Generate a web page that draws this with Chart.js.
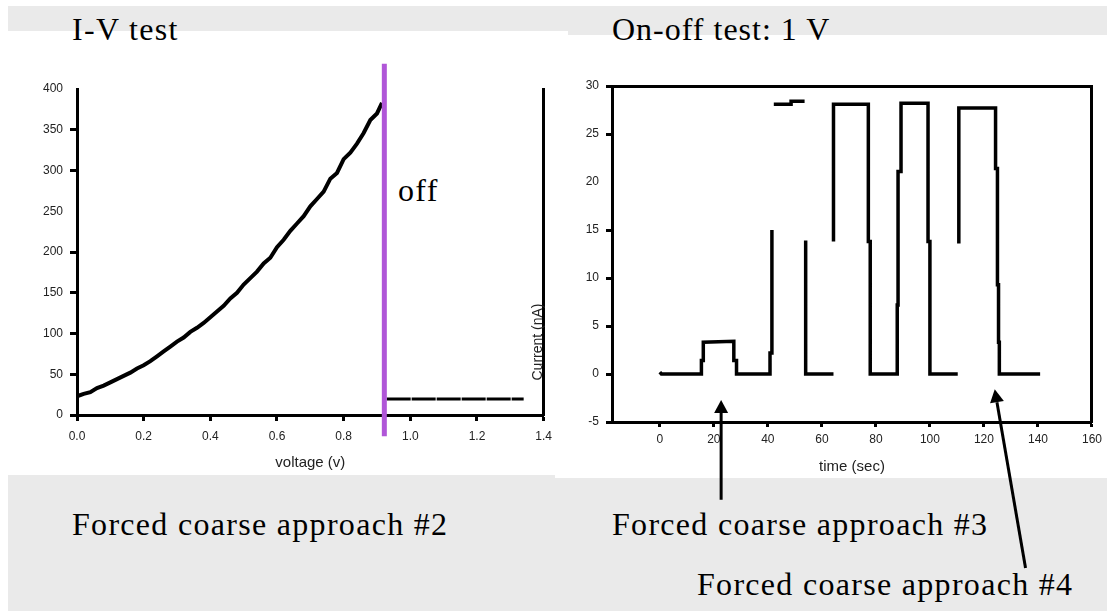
<!DOCTYPE html>
<html>
<head>
<meta charset="utf-8">
<script src="https://cdn.jsdelivr.net/npm/chart.js"></script>
<style>
  body { margin: 0; background: #fff; }
  #page { position: relative; width: 1107px; height: 611px; overflow: hidden; background: #fff; }
  .band { position: absolute; background: #eaeaea; }
  .note { position: absolute; font-family: "Liberation Serif", serif; font-size: 32px; line-height: 32px;
          letter-spacing: 1.3px; color: #000; white-space: nowrap; }
  canvas { position: absolute; top: 0; }
</style>
</head>
<body>
<div id="page">
  <div class="band" style="left:8px;top:6px;width:560px;height:25px"></div>
  <div class="band" style="left:568px;top:6px;width:539px;height:29px"></div>
  <div class="band" style="left:8px;top:475px;width:547px;height:136px"></div>
  <div class="band" style="left:555px;top:478px;width:552px;height:133px"></div>

  <div class="note" style="left:72px;top:13px">I-V test</div>
  <div class="note" style="left:612px;top:13px;letter-spacing:1px">On-off test: 1 V</div>
  <div class="note" style="left:398px;top:174px">off</div>
  <div class="note" style="left:72px;top:508px">Forced coarse approach #2</div>
  <div class="note" style="left:612px;top:508px">Forced coarse approach #3</div>
  <div class="note" style="left:697px;top:568px">Forced coarse approach #4</div>

  <canvas id="ivChart" width="560" height="611" style="left:0"></canvas>
  <canvas id="onoffChart" width="547" height="611" style="left:560px"></canvas>
</div>

<script>
'use strict';

// I-V test (left panel)
const ivVoltage = [0.00, 0.02, 0.04, 0.06, 0.08, 0.10, 0.12, 0.14, 0.16, 0.18,
                   0.20, 0.22, 0.24, 0.26, 0.28, 0.30, 0.32, 0.34, 0.36, 0.38,
                   0.40, 0.42, 0.44, 0.46, 0.48, 0.50, 0.52, 0.54, 0.56, 0.58,
                   0.60, 0.62, 0.64, 0.66, 0.68, 0.70, 0.72, 0.74, 0.76, 0.78,
                   0.80, 0.82, 0.84, 0.86, 0.88, 0.90, 0.915];
const ivCurrent = [23, 26, 28, 33, 36, 40, 44, 48, 52, 57,
                   61, 66, 72, 78, 84, 90, 95, 102, 107, 113,
                   120, 127, 134, 143, 150, 160, 168, 176, 186, 193,
                   206, 215, 226, 235, 244, 256, 265, 274, 290, 297,
                   314, 322, 333, 346, 362, 370, 383];
const offVoltage = [0.929, 1.34];
const offCurrent = [19.6, 19.6];
const cutoffVoltage = [0.922, 0.922];
const cutoffCurrent = [431, -26];

const ivXTicks = [0, 0.2, 0.4, 0.6, 0.8, 1.0, 1.2, 1.4];
const ivYTicks = [0, 50, 100, 150, 200, 250, 300, 350, 400];
const ivYNoMark = [250, 400];

// On-off test (right panel), null = break in the trace
const onoffTime = [0, 0.6, 15.4, 15.4, 16.1, 16.1, 27.4, 27.4, 28.4, 28.4, 40.8, 40.8, 41.5, 41.5, 41.9,
                   42.2, 48.6, 48.6, 53.6, 53.8,
                   54.0, 54.0, 64.3, 64.3,
                   64.3, 64.3, 77.2, 77.2, 77.9, 77.9, 87.9, 87.9, 88.2, 88.2, 89.3, 89.3,
                   99.3, 99.3, 100.0, 100.0, 110.3, 110.5,
                   110.7, 110.7, 124.3, 124.3, 125.0, 125.0, 125.4, 125.4, 125.7, 125.7, 140.8];
const onoffCurrent = [0.2, 0, 0, 1.4, 1.4, 3.3, 3.4, 1.4, 1.4, 0, 0, 2.2, 2.2, 15.0, null,
                      28.1, 28.1, 28.4, 28.4, null,
                      13.9, 0, 0, null,
                      13.8, 28.1, 28.1, 13.8, 13.8, 0, 0, 7.2, 7.2, 21.1, 21.1, 28.2,
                      28.2, 13.8, 13.8, 0, 0, null,
                      13.6, 27.7, 27.7, 21.4, 21.4, 9.3, 9.3, 3.3, 3.3, 0, 0];

const onoffXTicks = [0, 20, 40, 60, 80, 100, 120, 140, 160];
const onoffYTicks = [-5, 0, 5, 10, 15, 20, 25, 30];
const onoffYNoMark = [20];

// arrows pointing at approaches #3 and #4 (data units of the right panel)
const arrowTipTime = [22.7, 124.0];
const arrowTipCurrent = [-2.7, -1.6];
const arrowTailTime = [22.7, 135.4];
const arrowTailCurrent = [-13.1, -20.2];

const tickFont = { family: 'Liberation Sans', size: 12 };
const titleFont = { family: 'Liberation Sans', size: 15 };

function points(xs, ys) {
  return xs.map((x, i) => ({ x: x, y: ys[i] }));
}

function fixedTicks(list) {
  return scale => { scale.ticks = list.map(v => ({ value: v })); };
}

function markColor(hidden) {
  return ctx => (ctx.tick && hidden.includes(ctx.tick.value)) ? 'rgba(0,0,0,0)' : '#000';
}

const currentLabel = {
  id: 'currentLabel',
  afterDraw(chart) {
    const ctx = chart.ctx;
    const area = chart.chartArea;
    ctx.save();
    ctx.translate(area.right - 6, 342);
    ctx.rotate(-Math.PI / 2);
    ctx.font = '14px "Liberation Sans"';
    ctx.fillStyle = '#222';
    ctx.textAlign = 'center';
    ctx.textBaseline = 'middle';
    ctx.fillText('Current (nA)', 0, 0);
    ctx.restore();
  }
};

const arrows = {
  id: 'arrows',
  afterDraw(chart) {
    const { ctx, scales } = chart;
    ctx.save();
    ctx.strokeStyle = '#000';
    ctx.fillStyle = '#000';
    ctx.lineWidth = 3;
    for (let i = 0; i < arrowTipTime.length; i++) {
      const tx = scales.x.getPixelForValue(arrowTipTime[i]);
      const ty = scales.y.getPixelForValue(arrowTipCurrent[i]);
      const sx = scales.x.getPixelForValue(arrowTailTime[i]);
      const sy = scales.y.getPixelForValue(arrowTailCurrent[i]);
      const ang = Math.atan2(ty - sy, tx - sx);
      const len = 13, half = 7;
      const bx = tx - Math.cos(ang) * len;
      const by = ty - Math.sin(ang) * len;
      ctx.beginPath();
      ctx.moveTo(sx, sy);
      ctx.lineTo(bx, by);
      ctx.stroke();
      ctx.beginPath();
      ctx.moveTo(tx, ty);
      ctx.lineTo(bx + Math.sin(ang) * half, by - Math.cos(ang) * half);
      ctx.lineTo(bx - Math.sin(ang) * half, by + Math.cos(ang) * half);
      ctx.closePath();
      ctx.fill();
    }
    ctx.restore();
  }
};

function renderIV() {
  new Chart(document.getElementById('ivChart'), {
    type: 'line',
    data: {
      datasets: [
        { data: points(cutoffVoltage, cutoffCurrent), borderColor: '#b056d8', borderWidth: 5,
          pointRadius: 0, clip: false, borderCapStyle: 'butt' },
        { data: points(ivVoltage, ivCurrent), borderColor: '#000', borderWidth: 4, pointRadius: 0 },
        { data: points(offVoltage, offCurrent), borderColor: '#000', borderWidth: 3, pointRadius: 0,
          borderDash: [24, 1] }
      ]
    },
    options: {
      responsive: false,
      animation: false,
      devicePixelRatio: 1,
      layout: { padding: { left: 0, top: 89, right: 12, bottom: 139 } },
      plugins: { legend: { display: false }, tooltip: { enabled: false } },
      scales: {
        x: {
          type: 'linear', min: 0, max: 1.4,
          afterBuildTicks: fixedTicks(ivXTicks),
          afterFit: s => { s.height = 57; },
          ticks: { font: tickFont, color: '#222', padding: 8, maxRotation: 0, autoSkip: false,
                   callback: v => Number(v).toFixed(1) },
          grid: { drawOnChartArea: false, tickLength: 6, tickWidth: 3, tickColor: '#000' },
          border: { color: '#000', width: 3 },
          title: { display: true, text: 'voltage (v)', font: titleFont, color: '#222', padding: 0 }
        },
        y: {
          type: 'linear', min: 0, max: 400,
          afterBuildTicks: fixedTicks(ivYTicks),
          afterFit: s => { s.width = 77; },
          ticks: { font: tickFont, color: '#222', padding: 7, autoSkip: false },
          grid: { drawOnChartArea: false, tickLength: 7, tickWidth: 3, tickColor: markColor(ivYNoMark) },
          border: { color: '#000', width: 3 }
        },
        y2: {
          type: 'linear', position: 'right', min: 0, max: 400,
          afterFit: s => { s.width = 0; },
          ticks: { display: false },
          grid: { display: false },
          border: { color: '#000', width: 3 }
        }
      }
    },
    plugins: [currentLabel]
  });
}

function renderOnOff() {
  new Chart(document.getElementById('onoffChart'), {
    type: 'line',
    data: {
      datasets: [
        { data: points(onoffTime, onoffCurrent), borderColor: '#000', borderWidth: 3.5,
          pointRadius: 0, spanGaps: false, borderCapStyle: 'butt', borderJoinStyle: 'miter' }
      ]
    },
    options: {
      responsive: false,
      animation: false,
      devicePixelRatio: 1,
      layout: { padding: { left: 0, top: 86, right: 12, bottom: 135 } },
      plugins: { legend: { display: false }, tooltip: { enabled: false } },
      scales: {
        x: {
          type: 'linear', min: -17.7, max: 160,
          afterBuildTicks: fixedTicks(onoffXTicks),
          afterFit: s => { s.height = 54; },
          ticks: { font: tickFont, color: '#222', padding: 5, maxRotation: 0, autoSkip: false },
          grid: { drawOnChartArea: false, tickLength: 5, tickWidth: 3, tickColor: '#000' },
          border: { color: '#000', width: 3 },
          title: { display: true, text: 'time (sec)', font: titleFont, color: '#222', padding: 0 }
        },
        x2: {
          type: 'linear', position: 'top', min: -17.7, max: 160,
          afterFit: s => { s.height = 0; },
          ticks: { display: false },
          grid: { display: false },
          border: { color: '#000', width: 3 }
        },
        y: {
          type: 'linear', min: -5, max: 30,
          afterBuildTicks: fixedTicks(onoffYTicks),
          afterFit: s => { s.width = 52; },
          ticks: { font: tickFont, color: '#222', padding: 7, autoSkip: false },
          grid: { drawOnChartArea: false, tickLength: 6, tickWidth: 3, tickColor: markColor(onoffYNoMark) },
          border: { color: '#000', width: 3 }
        },
        y2: {
          type: 'linear', position: 'right', min: -5, max: 30,
          afterFit: s => { s.width = 0; },
          ticks: { display: false },
          grid: { display: false },
          border: { color: '#000', width: 3 }
        }
      }
    },
    plugins: [arrows]
  });
}

renderIV();
renderOnOff();
</script>
</body>
</html>
